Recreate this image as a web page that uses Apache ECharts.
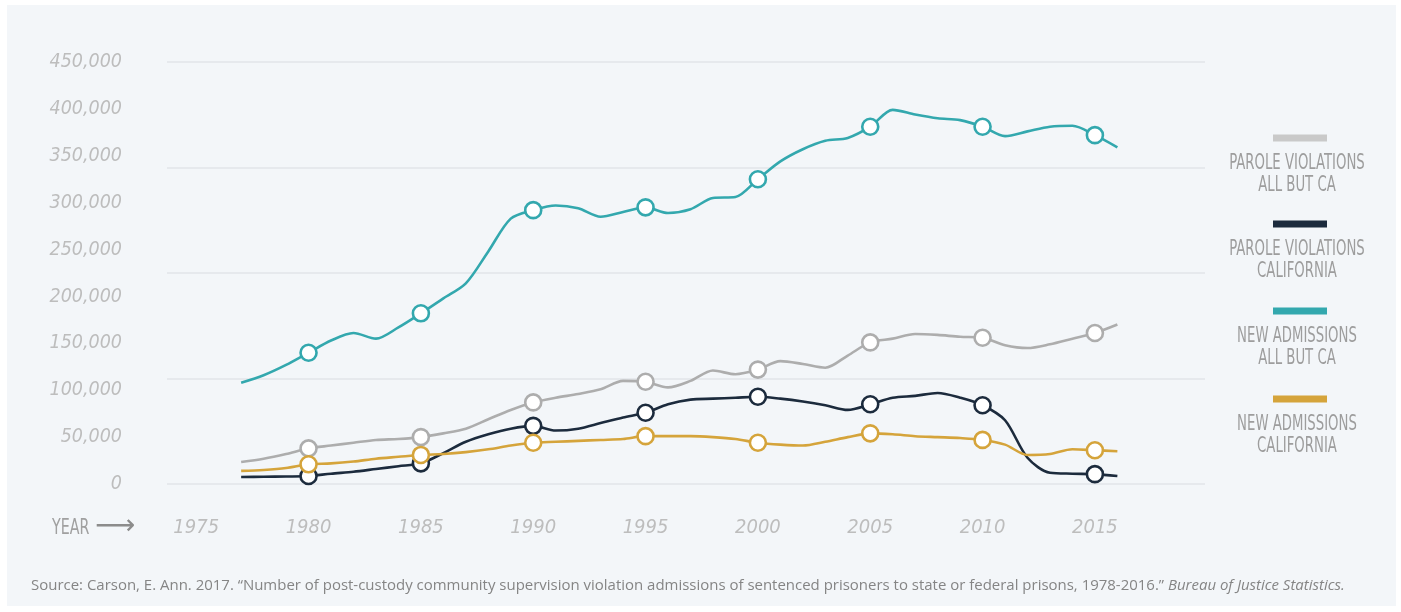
<!DOCTYPE html>
<html>
<head>
<meta charset="utf-8">
<script src="https://cdn.jsdelivr.net/npm/echarts@6/dist/echarts.min.js"></script>
<style>
html,body{margin:0;padding:0;background:#ffffff;}
#chart{width:1401px;height:612px;}
</style>
</head>
<body>
<div id="chart"></div>
<script>
// ---- data ----
const years = [1977,1978,1979,1980,1981,1982,1983,1984,1985,1986,1987,1988,1989,1990,1991,1992,1993,1994,1995,1996,1997,1998,1999,2000,2001,2002,2003,2004,2005,2006,2007,2008,2009,2010,2011,2012,2013,2014,2015,2016];
const markerYears = [1980,1985,1990,1995,2000,2005,2010,2015];
const xTickLabels = [1975,1980,1985,1990,1995,2000,2005,2010,2015];
const seriesNames = [
  ['PAROLE VIOLATIONS','ALL BUT CA'],
  ['PAROLE VIOLATIONS','CALIFORNIA'],
  ['NEW ADMISSIONS','ALL BUT CA'],
  ['NEW ADMISSIONS','CALIFORNIA']
];
const paroleAllButCA = [23500,27000,32000,38000,41000,44000,47000,48000,50000,54000,59000,69000,79000,87000,92000,96000,101000,110000,109000,103000,110000,121000,117000,122000,131000,128000,124000,137000,151000,155000,160000,159000,157000,156000,148000,145000,149000,155000,161000,170000];
const paroleCA = [7500,7700,8000,8500,11000,13000,16000,19000,22000,33000,45000,53000,59000,62000,57000,59000,65000,71000,76000,85000,90000,91000,92000,93000,91000,88000,84000,79000,85000,92000,94000,97000,92000,84000,68000,28000,12000,11000,10500,8500];
const newAllButCA = [108000,116000,127000,140000,153000,161000,155000,167000,182000,198000,214000,248000,283000,292000,297000,294000,285000,290000,295000,289000,293000,305000,306000,325000,344000,357000,366000,369000,381000,399000,394000,390000,388000,381000,371000,376000,381000,382000,372000,359000];
const newCA = [14000,15000,17000,21000,22000,24000,27000,29000,31000,32000,34000,37000,41000,44000,45000,46000,47000,48000,51000,51000,51000,50000,48000,44000,42000,41000,45000,50000,54000,53000,51000,50000,49000,47000,42000,31000,32000,37000,36000,35000];
const colors = ['#adadad','#1c2b3d','#33a8ae','#d5a43b'];
const legendColors = ['#c9c9c9','#1c2b3d','#33a8ae','#d5a43b'];
const values = [paroleAllButCA, paroleCA, newAllButCA, newCA];

const chart = echarts.init(document.getElementById('chart'), null, {renderer:'canvas'});

function buildData(vals){
  return years.map((y,i)=>({
    value:[y, vals[i]],
    symbol: markerYears.indexOf(y) >= 0 ? 'circle' : 'none'
  }));
}

const series = values.map((vals, k)=>({
  type:'line',
  name: seriesNames[k].join(' '),
  data: buildData(vals),
  xAxisIndex:0,
  yAxisIndex:0,
  smooth:0.3,
  symbol:'none',
  symbolSize:16,
  showAllSymbol:true,
  lineStyle:{color:colors[k], width:2.6},
  itemStyle:{color:'#ffffff', borderColor:colors[k], borderWidth:2.6},
  emphasis:{disabled:true},
  z: 3 + k
}));

const legendGraphics = [];
const swatchY = [138,224,311,399];
seriesNames.forEach((lines,k)=>{
  legendGraphics.push({
    type:'rect', left:1273, top:swatchY[k]-3.5,
    shape:{width:54, height:7}, style:{fill:legendColors[k]}
  });
  lines.forEach((t,j)=>{
    legendGraphics.push({
      type:'text', x:1297, y:swatchY[k]+25+j*22, scaleX:0.67,
      style:{text:t, fill:'#9d9d9d', font:'22px "DejaVu Sans Condensed", "DejaVu Sans", sans-serif',
        textAlign:'center', textVerticalAlign:'middle'}
    });
  });
});

const tickFont = '"DejaVu Sans Condensed", "DejaVu Sans", sans-serif';

const option = {
  backgroundColor:'#ffffff',
  animation:false,
  graphic:[
    {type:'rect', left:7, top:5, z:-100, shape:{width:1389, height:601}, style:{fill:'#f3f6f9'}},
    {type:'text', x:52, y:528, scaleX:0.72, style:{text:'YEAR', fill:'#a0a0a0',
      font:'22px "DejaVu Sans Condensed", "DejaVu Sans", sans-serif', textVerticalAlign:'middle'}},
    {type:'text', x:95, y:527, style:{text:'\u27F6', fill:'#8c8c8c',
      font:'28px "DejaVu Sans", sans-serif', textVerticalAlign:'middle'}},
    {type:'text', x:31, y:586, scaleX:1.085, style:{
      text:'{a|Source: Carson, E. Ann. 2017. \u201CNumber of post-custody community supervision violation admissions of sentenced prisoners to state or federal prisons, 1978-2016.\u201D }{b|Bureau of Justice Statistics.}',
      textVerticalAlign:'middle',
      rich:{
        a:{fill:'#858585', font:'13.8px "Open Sans", "Noto Sans", sans-serif'},
        b:{fill:'#858585', font:'italic 13.8px "Open Sans", "Noto Sans", sans-serif'}
      }
    }}
  ].concat(legendGraphics),
  grid:{left:167, right:196, top:62, bottom:128, containLabel:false},
  xAxis:{
    type:'value', min:1973.7, max:2019.9,
    axisLine:{show:false}, axisTick:{show:false}, splitLine:{show:false},
    axisLabel:{
      customValues: xTickLabels,
      formatter: v => String(v),
      margin:34,
      color:'#bdbdbd',
      fontStyle:'italic',
      fontSize:20,
      fontFamily: tickFont
    }
  },
  yAxis:[
    {
      type:'value', min:0, max:450000, interval:50000,
      axisLine:{show:false}, axisTick:{show:false}, splitLine:{show:false},
      axisLabel:{
        formatter: v => v.toLocaleString('en-US'),
        margin:45,
        color:'#bdbdbd',
        fontStyle:'italic',
        fontSize:19.5,
        fontFamily: tickFont
      }
    },
    {
      type:'value', min:0, max:450000, interval:112500, position:'left',
      axisLine:{show:false}, axisTick:{show:false}, axisLabel:{show:false},
      splitLine:{show:true, lineStyle:{color:'#e2e5e8', width:1.5}}
    }
  ],
  series: series
};
chart.setOption(option);
</script>
</body>
</html>
